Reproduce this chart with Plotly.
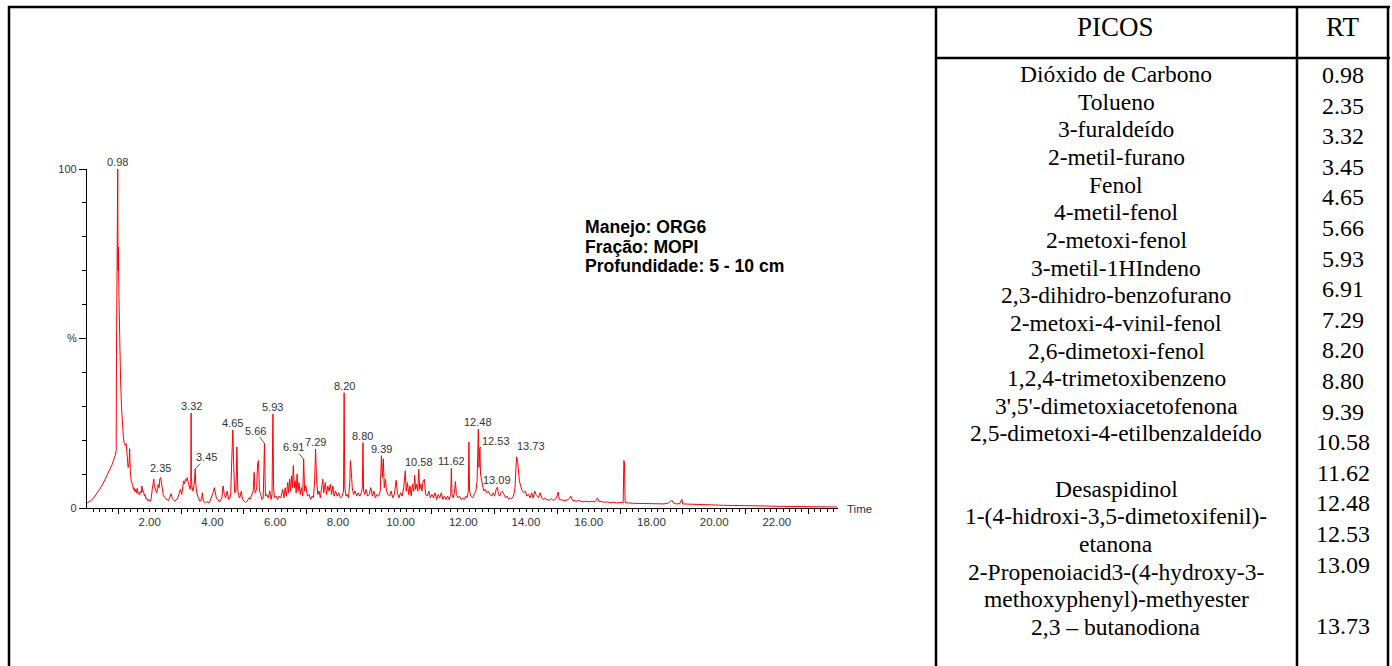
import plotly.graph_objects as go

# ---------------- data ----------------
rt_time = [
    0.00, 0.10, 0.20, 0.30, 0.40, 0.50, 0.60, 0.70, 0.80, 0.90, 0.93, 0.94, 0.95, 0.955, 0.96, 0.965, 0.97, 0.98,
    0.99, 0.995, 1.00, 1.02, 1.04, 1.07, 1.10, 1.13, 1.16, 1.19, 1.22, 1.25, 1.28, 1.31, 1.34, 1.36, 1.38, 1.41,
    1.45, 1.48, 1.50, 1.53, 1.55, 1.58, 1.60, 1.63, 1.65, 1.68, 1.70, 1.73, 1.75, 1.78, 1.80, 1.83, 1.85, 1.88,
    1.90, 1.93, 1.95, 1.98, 2.00, 2.03, 2.05, 2.08, 2.10, 2.13, 2.15, 2.17, 2.20, 2.22, 2.25, 2.27,
    2.30, 2.32, 2.35, 2.38, 2.40, 2.43, 2.47, 2.50, 2.54, 2.57, 2.60, 2.63, 2.68, 2.72, 2.76, 2.80, 2.84, 2.87,
    2.90, 2.93, 2.98, 3.02, 3.05, 3.08, 3.11, 3.14,
    3.17, 3.20, 3.23, 3.26, 3.29, 3.31, 3.32, 3.33, 3.35, 3.38, 3.42, 3.45, 3.47, 3.50, 3.55, 3.60, 3.65, 3.68,
    3.71, 3.75, 3.78, 3.82, 3.85, 3.89, 3.92, 3.97, 4.02, 4.06, 4.10, 4.13, 4.17, 4.21, 4.24, 4.27, 4.30, 4.34,
    4.38, 4.42, 4.47, 4.52, 4.55, 4.58, 4.62,
    4.65, 4.68, 4.71, 4.75, 4.78, 4.81, 4.86, 4.89, 4.92, 4.96, 5.02, 5.06, 5.10, 5.13, 5.17, 5.20, 5.23, 5.27,
    5.30, 5.33, 5.36, 5.41, 5.44,
    5.47, 5.50, 5.54, 5.58, 5.62, 5.66, 5.69, 5.73, 5.78, 5.83, 5.87, 5.90, 5.93, 5.95, 5.98, 6.03, 6.08, 6.12,
    6.18, 6.24, 6.28, 6.32, 6.36, 6.40, 6.43, 6.46, 6.49, 6.52, 6.55, 6.58, 6.61, 6.64, 6.67, 6.70, 6.73, 6.76,
    6.80, 6.84, 6.88, 6.91, 6.94, 6.98, 7.03, 7.08, 7.13, 7.18, 7.22, 7.26, 7.29, 7.32, 7.36, 7.40, 7.44, 7.48,
    7.52, 7.55, 7.60, 7.64, 7.68, 7.72, 7.76, 7.80, 7.84, 7.88, 7.93, 7.98, 8.03, 8.08, 8.14, 8.18, 8.20, 8.22,
    8.26, 8.30, 8.34, 8.38, 8.40, 8.43, 8.46, 8.50, 8.55, 8.60, 8.65, 8.70, 8.75, 8.78, 8.80, 8.82, 8.86, 8.90,
    8.95, 9.00, 9.05, 9.10, 9.15, 9.20, 9.25, 9.30, 9.35, 9.39, 9.42, 9.45, 9.48, 9.52, 9.55, 9.60, 9.65, 9.70,
    9.75, 9.80, 9.86, 9.90, 9.95, 10.00, 10.05, 10.10, 10.15, 10.18, 10.22, 10.26, 10.30, 10.34, 10.38, 10.42,
    10.45, 10.48, 10.52, 10.55, 10.58, 10.61, 10.65, 10.68, 10.72, 10.76, 10.80, 10.85, 10.90, 10.95, 11.00,
    11.05, 11.10, 11.15, 11.20, 11.25, 11.30, 11.35, 11.40, 11.45, 11.50, 11.55, 11.60, 11.62, 11.64, 11.68,
    11.72, 11.75, 11.78, 11.83, 11.88, 11.93, 11.98, 12.03, 12.08, 12.12, 12.16, 12.18, 12.20, 12.24, 12.30,
    12.35, 12.40, 12.44, 12.46, 12.48, 12.50, 12.53, 12.55, 12.58, 12.62, 12.66, 12.70, 12.75, 12.80, 12.85,
    12.90, 12.95, 13.00, 13.05, 13.09, 13.12, 13.16, 13.20, 13.25, 13.30, 13.35, 13.40, 13.45, 13.50, 13.55,
    13.60, 13.65, 13.68, 13.70, 13.73, 13.76, 13.79, 13.83, 13.88, 13.93, 13.98, 14.03, 14.08, 14.13, 14.18,
    14.23, 14.28, 14.32, 14.36, 14.40, 14.45, 14.50, 14.55, 14.60, 14.65, 14.70, 14.75, 14.80, 14.85, 14.90,
    14.97, 15.03, 15.06,
    15.15, 15.25, 15.35, 15.43, 15.48, 15.60, 15.70, 15.80, 15.90, 16.00, 16.10, 16.20, 16.25, 16.28, 16.32,
    16.40, 16.50, 16.60, 16.70, 16.80, 16.90, 17.00, 17.08, 17.10, 17.12, 17.14, 17.16, 17.25, 17.40, 17.60,
    17.80, 18.00, 18.20, 18.40, 18.55, 18.60, 18.65, 18.70, 18.80, 18.90, 18.95, 18.97, 19.00, 19.20, 19.40,
    19.60, 19.80, 20.00, 20.30, 20.60, 21.00, 21.40, 21.60, 22.00, 22.50, 23.00, 23.50, 23.92,
]
abundance = [
    1.5, 2.0, 2.8, 4.0, 5.5, 7.0, 8.8, 10.8, 12.8, 15.5, 17.0, 45.0, 58.0, 80.0, 85.0, 66.0, 73.0, 100.0,
    70.0, 75.0, 77.0, 62.0, 50.0, 38.0, 30.0, 25.0, 21.0, 19.0, 18.5, 19.0, 14.0, 12.0, 13.0, 17.5, 11.0, 8.0,
    7.0, 5.5, 6.0, 4.8, 5.5, 4.5, 5.8, 4.2, 4.5, 3.8, 5.0, 4.5, 6.5, 4.8, 5.0, 3.6, 4.0, 2.8,
    3.0, 2.2, 2.5, 2.0, 2.3, 2.1, 3.0, 5.5, 7.5, 8.5, 6.5, 6.0, 5.0, 4.5, 5.5, 7.0,
    6.0, 8.5, 9.0, 6.5, 5.0, 4.0, 3.2, 3.0, 2.4, 2.5, 2.2, 3.0, 4.2, 2.8, 2.2, 2.0, 2.4, 2.5,
    3.2, 4.0, 5.5, 4.0, 7.0, 8.0, 7.2, 8.5,
    8.0, 9.0, 7.5, 6.5, 5.5, 7.0, 28.0, 9.0, 6.0, 5.0, 7.0, 11.5, 7.0, 4.5, 3.0, 2.0, 2.5, 4.5,
    2.0, 1.6, 1.5, 1.9, 1.8, 1.5, 2.0, 3.0, 4.5, 6.0, 3.5, 2.8, 2.5, 2.0, 2.0, 2.6, 3.0, 6.5,
    4.0, 3.0, 5.0, 2.5, 3.2, 3.5, 15.0,
    23.0, 12.0, 4.5, 5.0, 18.0, 5.0, 3.0, 3.6, 5.0, 2.5, 1.8, 1.6, 2.0, 2.4, 3.0, 2.6, 3.5, 4.0,
    5.0, 10.5, 4.5, 5.5, 13.0,
    14.0, 5.0, 4.0, 2.5, 3.0, 19.0, 3.5, 4.0, 3.0, 5.0, 2.5, 4.0, 27.7, 6.0, 3.0, 3.5, 2.5, 3.5,
    3.0, 5.5, 3.0, 6.0, 3.5, 7.5, 4.5, 8.5, 5.0, 9.5, 6.0, 12.5, 6.0, 8.0, 4.5, 10.0, 5.0, 7.5,
    4.0, 6.0, 3.5, 14.4, 5.0, 6.5, 3.5, 4.0, 2.5, 3.5, 3.0, 8.0, 17.4, 8.5, 4.0, 5.0, 3.0, 5.5,
    8.5, 4.5, 7.5, 4.0, 6.5, 5.0, 7.0, 4.0, 6.5, 3.5, 5.0, 3.5, 4.5, 3.0, 3.5, 5.0, 34.0, 6.0,
    3.5, 4.0, 3.0, 7.5, 14.0, 10.5, 6.0, 4.0, 5.0, 3.5, 4.5, 3.5, 4.5, 6.0, 19.3, 5.0, 4.0, 5.5,
    3.5, 4.0, 6.0, 3.5, 5.0, 3.0, 4.0, 3.5, 5.0, 15.4, 9.0, 14.5, 6.0, 8.5, 5.0, 4.0, 3.5, 5.0,
    3.0, 4.0, 8.2, 4.5, 3.0, 4.5, 3.5, 6.0, 11.0, 5.0, 7.5, 4.0, 6.5, 3.5, 7.0, 5.0,
    9.7, 5.5, 7.0, 5.0, 11.4, 5.5, 7.0, 5.0, 8.0, 8.5, 4.0, 3.5, 5.0, 3.0, 4.0,
    3.0, 4.5, 2.5, 4.0, 3.0, 4.5, 2.5, 3.5, 2.5, 3.5, 2.5, 4.0, 11.7, 4.0, 3.0,
    5.0, 7.8, 4.0, 3.0, 3.5, 2.5, 3.0, 2.5, 3.5, 3.0, 5.0, 19.5, 5.0, 3.5, 3.0,
    4.0, 5.0, 8.0, 14.0, 23.3, 12.0, 17.8, 10.0, 8.0, 6.5, 5.0, 5.5, 4.5, 5.0, 4.0,
    3.5, 4.5, 3.5, 5.5, 6.2, 4.0, 3.5, 4.5, 5.0, 4.0, 3.0, 3.5, 2.5, 3.0, 2.8,
    3.5, 6.0, 12.0, 15.1, 14.0, 10.0, 8.0, 6.5, 5.0, 4.5, 5.0, 3.5, 4.0, 3.0, 4.5,
    3.0, 5.0, 4.0, 3.5, 3.0, 4.5, 3.0, 2.5, 3.0, 2.4, 2.5, 2.2, 2.8, 2.4, 2.3,
    3.0, 4.7, 2.5,
    2.3, 2.2, 2.5, 3.5, 2.3, 2.0, 2.2, 1.8, 2.0, 1.8, 2.0, 1.8, 2.5, 3.0, 2.0,
    1.8, 1.7, 1.8, 1.6, 1.7, 1.5, 1.6, 1.5, 1.6, 14.0, 13.5, 1.7, 1.5, 1.4, 1.4,
    1.3, 1.3, 1.3, 1.2, 1.5, 2.0, 2.3, 1.5, 1.2, 1.3, 2.0, 2.6, 1.2, 1.1, 1.0,
    1.0, 0.9, 0.9, 0.8, 0.8, 0.7, 0.8, 0.6, 0.5, 0.4, 0.35, 0.3, 0.3,
]

peak_labels = ["0.98", "2.35", "3.32", "3.45", "4.65", "5.66", "5.93", "6.91", "7.29",
               "8.20", "8.80", "9.39", "10.58", "11.62", "12.48", "12.53", "13.09", "13.73"]

x_tick_labels = ["2.00", "4.00", "6.00", "8.00", "10.00", "12.00",
                 "14.00", "16.00", "18.00", "20.00", "22.00"]
y_tick_labels = ["0", "%", "100"]

sample_info = ["Manejo: ORG6", "Fração: MOPI", "Profundidade: 5 - 10 cm"]

table_header = ["PICOS", "RT"]
compound_names = [
    "Dióxido de Carbono", "Tolueno", "3-furaldeído", "2-metil-furano", "Fenol",
    "4-metil-fenol", "2-metoxi-fenol", "3-metil-1HIndeno", "2,3-dihidro-benzofurano",
    "2-metoxi-4-vinil-fenol", "2,6-dimetoxi-fenol", "1,2,4-trimetoxibenzeno",
    "3',5'-dimetoxiacetofenona", "2,5-dimetoxi-4-etilbenzaldeído", "",
    "Desaspidinol", "1-(4-hidroxi-3,5-dimetoxifenil)-", "etanona",
    "2-Propenoiacid3-(4-hydroxy-3-", "methoxyphenyl)-methyester", "2,3 – butanodiona",
]
compound_rt = ["0.98", "2.35", "3.32", "3.45", "4.65", "5.66", "5.93", "6.91", "7.29",
               "8.20", "8.80", "9.39", "10.58", "11.62", "12.48", "12.53", "13.09", "", "13.73"]

# ---------------- layout helpers ----------------
W, H = 1392, 666


def px(x):
    return x / W


def py(y):
    return 1 - y / H


SANS = "Liberation Sans, Arial, sans-serif"
SERIF = "Liberation Serif, Times New Roman, serif"
TXT = "#333333"

fig = go.Figure()
fig.add_trace(go.Scatter(x=rt_time, y=abundance, mode="lines",
                         line=dict(color="#ff0000", width=1), hoverinfo="skip",
                         showlegend=False))

# x axis ticks: small ticks every 0.2 min, taller ticks on odd minutes, labels on even minutes
label_vals = [float(s) for s in x_tick_labels]
small_vals, small_text = [], []
for i in range(1, 120):
    v = round(i * 0.2, 1)
    if abs(v - round(v)) < 1e-9 and int(round(v)) % 2 == 1:
        continue
    small_vals.append(v)
    txt = ""
    for lv, ls in zip(label_vals, x_tick_labels):
        if abs(lv - v) < 1e-9:
            txt = ls
    small_text.append(txt)
odd_vals = [float(v) for v in range(1, 24, 2)]

fig.update_layout(
    template="none",
    width=W, height=H, autosize=False,
    margin=dict(l=0, r=0, t=0, b=0, pad=0, autoexpand=False),
    paper_bgcolor="white", plot_bgcolor="white",
    showlegend=False,
    xaxis=dict(
        domain=[px(87), px(838)], range=[0, 23.95], automargin=False,
        showline=True, linecolor="black", linewidth=1.2,
        showgrid=False, zeroline=False,
        tickmode="array", tickvals=small_vals, ticktext=small_text,
        ticks="outside", ticklen=3, tickwidth=1, tickcolor="black",
        tickfont=dict(family=SANS, size=11.5, color=TXT),
        minor=dict(tickmode="array", tickvals=odd_vals, ticks="outside",
                   ticklen=5, tickwidth=1, tickcolor="black", showgrid=False),
        fixedrange=True,
    ),
    yaxis=dict(
        domain=[py(508), py(169)], range=[0, 100], automargin=False,
        showline=True, linecolor="black", linewidth=1.2,
        showgrid=False, zeroline=False,
        tickmode="array", tickvals=[0, 50, 100], ticktext=y_tick_labels,
        ticks="outside", ticklen=7, tickwidth=1, tickcolor="black",
        tickfont=dict(family=SANS, size=11, color=TXT),
        minor=dict(tickmode="array", tickvals=[10, 20, 30, 40, 60, 70, 80, 90],
                   ticks="outside", ticklen=4, tickwidth=1, tickcolor="black",
                   showgrid=False),
        fixedrange=True,
    ),
)

annotations = []

# peak labels
leaders = {"3.45": (11, -12), "5.66": (-9, -13), "6.91": (-10, -12), "12.53": (16, -7)}
shifts = {"2.35": (0, 9), "13.73": (13, 11)}
for lab in peak_labels:
    t = float(lab)
    ymax = max(a for tt, a in zip(rt_time, abundance) if abs(tt - t) <= 0.031)
    if lab in leaders:
        ax, ay = leaders[lab]
        annotations.append(dict(x=t, y=ymax, xref="x", yref="y", text=lab,
                                showarrow=True, arrowhead=0, arrowwidth=0.8,
                                arrowcolor=TXT, ax=ax, ay=ay, standoff=0,
                                borderpad=0,
                                font=dict(family=SANS, size=11, color=TXT)))
    else:
        xs, ys = shifts.get(lab, (0, 7))
        annotations.append(dict(x=t, y=ymax, xref="x", yref="y", text=lab,
                                showarrow=False, xanchor="center", yanchor="middle",
                                xshift=xs, yshift=ys, borderpad=0,
                                font=dict(family=SANS, size=11, color=TXT)))

# axis title "Time"
annotations.append(dict(x=px(845), y=py(509), xref="paper", yref="paper", text="Time",
                        showarrow=False, xanchor="left", yanchor="middle",
                        font=dict(family=SANS, size=11.5, color=TXT)))

# sample info block
for i, line in enumerate(sample_info):
    annotations.append(dict(x=px(583), y=py(227 + i * 19.6), xref="paper", yref="paper",
                            text="<b>" + line + "</b>", showarrow=False,
                            xanchor="left", yanchor="middle",
                            font=dict(family=SANS, size=17.6, color="black")))

# table header
annotations.append(dict(x=px(1115), y=py(27), xref="paper", yref="paper",
                        text=table_header[0], showarrow=False, xanchor="center",
                        yanchor="middle", font=dict(family=SERIF, size=27, color="black")))
annotations.append(dict(x=px(1342), y=py(27), xref="paper", yref="paper",
                        text=table_header[1], showarrow=False, xanchor="center",
                        yanchor="middle", font=dict(family=SERIF, size=27, color="black")))

# table body
for i, name in enumerate(compound_names):
    if not name:
        continue
    annotations.append(dict(x=px(1116), y=py(74 + i * 27.65), xref="paper", yref="paper",
                            text=name, showarrow=False, xanchor="center", yanchor="middle",
                            font=dict(family=SERIF, size=23.5, color="black")))
for i, rt in enumerate(compound_rt):
    if not rt:
        continue
    annotations.append(dict(x=px(1343), y=py(75 + i * 30.6), xref="paper", yref="paper",
                            text=rt, showarrow=False, xanchor="center", yanchor="middle",
                            font=dict(family=SERIF, size=24, color="black")))

fig.update_layout(annotations=annotations)

# table borders
border = dict(color="black", width=2.5)
shapes = [
    dict(type="line", xref="paper", yref="paper", x0=px(8), x1=px(1390), y0=py(7), y1=py(7), line=border),
    dict(type="line", xref="paper", yref="paper", x0=px(9), x1=px(9), y0=py(6), y1=py(666), line=border),
    dict(type="line", xref="paper", yref="paper", x0=px(936), x1=px(936), y0=py(6), y1=py(666), line=border),
    dict(type="line", xref="paper", yref="paper", x0=px(1297), x1=px(1297), y0=py(6), y1=py(666), line=border),
    dict(type="line", xref="paper", yref="paper", x0=px(1388), x1=px(1388), y0=py(6), y1=py(666), line=border),
    dict(type="line", xref="paper", yref="paper", x0=px(936), x1=px(1390), y0=py(58), y1=py(58), line=border),
]
fig.update_layout(shapes=shapes)

fig.write_html("out.html", config={"displayModeBar": False})
